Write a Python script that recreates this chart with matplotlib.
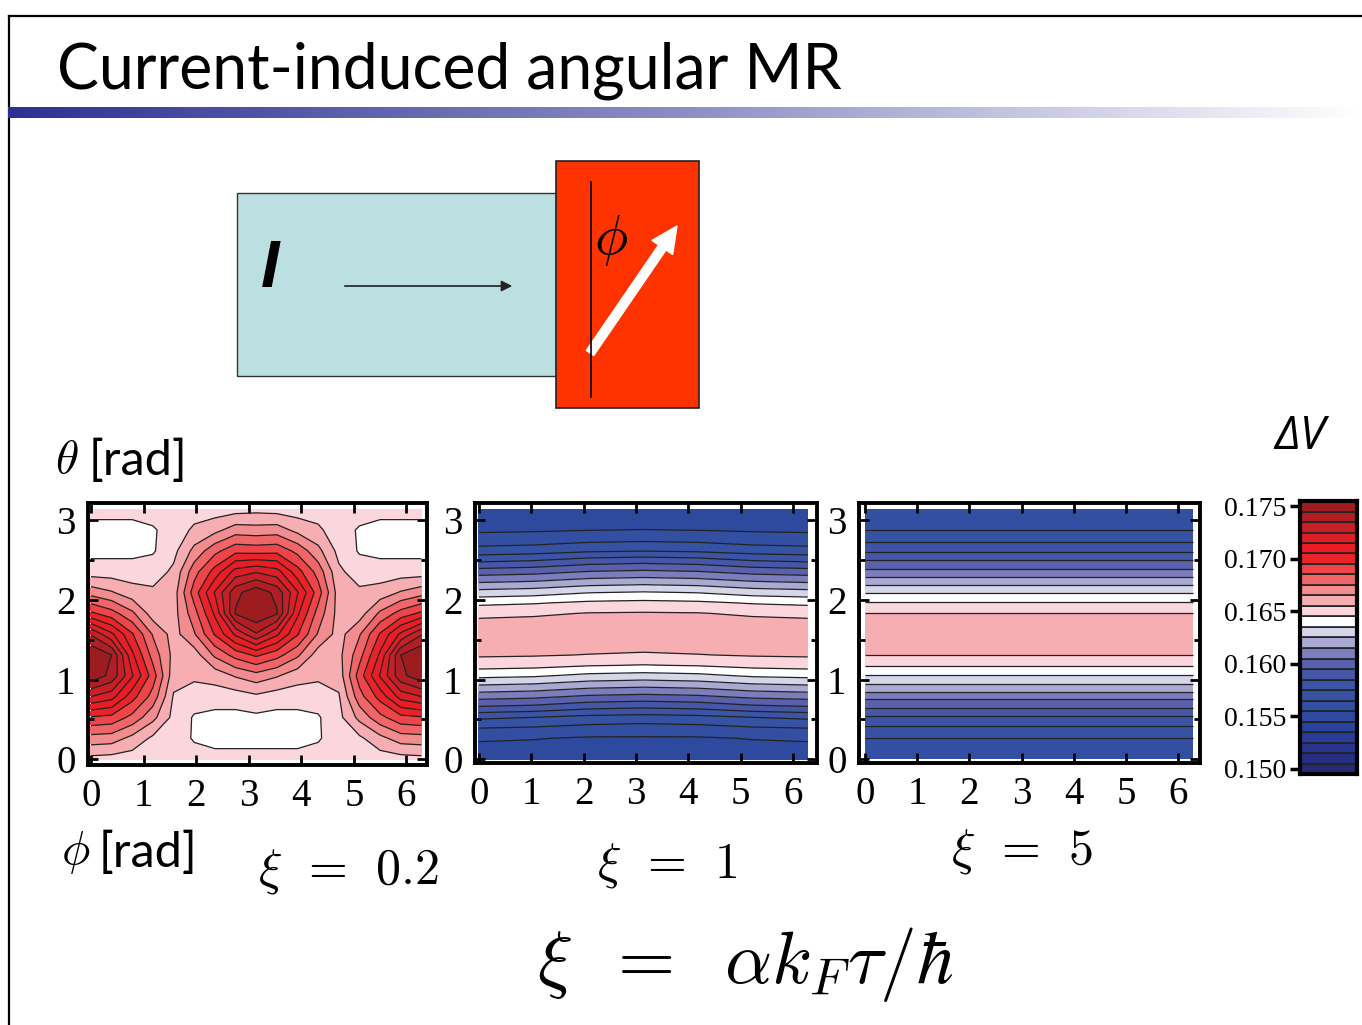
import numpy as np
import matplotlib
matplotlib.use("Agg")
import matplotlib.pyplot as plt
from matplotlib.patches import Rectangle, FancyArrow
from matplotlib.colors import LinearSegmentedColormap

plt.rcParams["mathtext.fontset"] = "cm"

W, H = 1362, 1025

# colour bands of Delta V (band centres, in units of 1e-3)
band_values = [150, 151, 152, 153, 154, 155, 156, 157, 158, 159, 160, 161, 162,
               163, 164, 165, 166, 167, 168, 169, 170, 171, 172, 173, 174, 175]
band_colors = ["#262a72", "#262e84", "#27358f", "#283c97", "#2a439c", "#2d4a9f",
               "#324fa2", "#3652a3", "#3b54a5", "#4657a8", "#5960ac", "#7c7dbd",
               "#a9a9d3", "#d6d6ea", "#ffffff", "#fbd6dc", "#f6aeb3", "#f38c8e",
               "#f06668", "#ef4448", "#ea2328", "#ec1c24", "#dc1e26", "#c71f26",
               "#b11f24", "#9c1c20"]
cbar_ticks = [0.150, 0.155, 0.160, 0.165, 0.170, 0.175]

# xi = 0.2 : rows theta = 0..pi (step pi/12), columns phi = 0..pi (step pi/8)
dv_xi02_half = [
    [165.2, 165.1, 165.0, 164.9, 164.8, 164.9, 164.8, 164.8, 164.8],
    [167.1, 167.0, 166.2, 165.3, 165.0, 164.4, 164.2, 164.2, 164.2],
    [169.4, 169.2, 168.2, 166.8, 165.2, 164.4, 164.2, 164.2, 164.3],
    [172.5, 171.9, 169.9, 168.1, 165.4, 165.0, 165.0, 165.0, 165.3],
    [175.2, 174.2, 171.6, 169.0, 165.9, 165.7, 165.9, 166.6, 167.1],
    [175.4, 174.5, 170.7, 168.1, 166.2, 166.0, 167.7, 168.9, 169.7],
    [173.4, 171.7, 169.6, 167.4, 166.1, 167.4, 169.6, 171.7, 173.4],
    [169.7, 168.9, 167.7, 166.0, 166.1, 168.1, 170.7, 174.6, 175.4],
    [167.1, 166.6, 165.9, 165.7, 166.0, 169.0, 171.6, 174.2, 175.2],
    [165.0, 165.0, 165.0, 165.0, 165.7, 168.1, 169.9, 171.9, 172.4],
    [164.2, 164.2, 164.2, 164.4, 165.2, 166.8, 168.2, 169.2, 169.1],
    [164.2, 164.2, 164.2, 164.4, 164.9, 165.7, 166.2, 167.0, 166.9],
    [164.8, 164.8, 164.8, 164.9, 164.8, 165.0, 165.0, 165.1, 165.2],
]

# xi = 1 : rows theta = 0..pi (step pi/24), columns phi = 0, pi/3, 2pi/3, pi
dv_xi1_half = [
    [155.00, 155.00, 155.00, 155.00],
    [155.20, 155.20, 155.10, 155.10],
    [155.65, 155.55, 155.40, 155.40],
    [156.53, 156.42, 156.19, 156.10],
    [157.70, 157.49, 157.20, 157.09],
    [159.42, 159.24, 158.80, 158.64],
    [160.89, 160.72, 160.33, 160.19],
    [162.34, 162.18, 161.79, 161.64],
    [163.77, 163.63, 163.24, 163.10],
    [164.90, 164.80, 164.56, 164.45],
    [165.64, 165.59, 165.47, 165.38],
    [166.03, 165.98, 165.88, 165.84],
    [166.18, 166.22, 166.27, 166.23],
    [165.78, 165.83, 165.93, 165.97],
    [165.24, 165.35, 165.54, 165.58],
    [164.27, 164.42, 164.69, 164.78],
    [162.90, 163.07, 163.46, 163.59],
    [161.44, 161.61, 162.00, 162.14],
    [159.99, 160.16, 160.54, 160.69],
    [158.40, 158.60, 159.04, 159.20],
    [156.93, 157.06, 157.35, 157.46],
    [155.97, 156.07, 156.31, 156.39],
    [155.35, 155.39, 155.48, 155.52],
    [155.07, 155.08, 155.15, 155.18],
    [154.94, 154.95, 154.99, 155.03],
]

# xi = 5 : no phi dependence, rows theta = 0..pi (step pi/24)
dv_xi5_profile = [155.90, 156.15, 156.47, 157.30, 158.35, 159.60, 160.85, 162.20,
                  163.47, 164.55, 165.52, 166.00, 166.30, 166.00, 165.52, 164.55,
                  163.47, 162.20, 160.85, 159.60, 158.35, 157.30, 156.47, 156.15,
                  155.90]

# symmetric about phi = pi
z1 = np.array(dv_xi02_half)
z1 = np.hstack([z1, z1[:, -2::-1]]) / 1000
z2 = np.array(dv_xi1_half)
z2 = np.hstack([z2, z2[:, -2::-1]]) / 1000
z3 = np.column_stack([dv_xi5_profile, dv_xi5_profile]) / 1000

phi1 = np.linspace(0, 2 * np.pi, z1.shape[1])
th1 = np.linspace(0, np.pi, z1.shape[0])
phi2 = np.linspace(0, 2 * np.pi, z2.shape[1])
th2 = np.linspace(0, np.pi, z2.shape[0])
phi3 = np.linspace(0, 2 * np.pi, z3.shape[1])
th3 = np.linspace(0, np.pi, z3.shape[0])

levels = (np.array(band_values + [176]) - 0.5) / 1000

fig = plt.figure(figsize=(W / 100, H / 100), dpi=100)

over = fig.add_axes([0, 0, 1, 1])
over.set_xlim(0, W)
over.set_ylim(H, 0)
over.axis("off")


def px_axes(x0, y0, x1, y1):
    return fig.add_axes([x0 / W, 1 - y1 / H, (x1 - x0) / W, (y1 - y0) / H])


serif = "Liberation Serif"

# slide frame + title
over.plot([9, W], [16, 16], color="black", lw=1.6)
over.plot([9, 9], [16, H], color="black", lw=1.6)
over.text(57, 88, "Current-induced angular MR", fontsize=45, family="Lato",
          ha="left", va="baseline")
gax = px_axes(8, 107, W, 118)
gcmap = LinearSegmentedColormap.from_list("bar", ["#2e3192", "#8c8fc4", "#ffffff"])
gax.imshow([np.linspace(0, 1, 256)], aspect="auto", cmap=gcmap)
gax.axis("off")

# sketch of the junction
over.add_patch(Rectangle((237, 193), 319, 183, fc="#bce0e2", ec="#333333", lw=1))
over.add_patch(Rectangle((556, 161), 143, 247, fc="#ff3300", ec="#222222", lw=1.2))
over.text(270, 270, "I", fontsize=48, family="Liberation Sans", weight="bold",
          style="italic", ha="center", va="center")
over.annotate("", xy=(515, 286), xytext=(342, 286),
              arrowprops=dict(arrowstyle="-|>", color="#222222", lw=1.2,
                              mutation_scale=16))
over.plot([591, 591], [182, 397], color="black", lw=1.2)
over.text(611, 240, r"$\phi$", fontsize=40, ha="center", va="center")
over.add_patch(FancyArrow(590, 353, 87, -127, width=9, head_width=25, head_length=26,
                          length_includes_head=True, fc="white", ec="white"))

# axis labels and captions
over.text(67, 460, r"$\theta$", fontsize=34, ha="center", va="center")
over.text(89, 475, "[rad]", fontsize=35, family="Lato", ha="left", va="baseline")
over.text(76, 852, r"$\phi$", fontsize=34, ha="center", va="center")
over.text(99, 867, "[rad]", fontsize=35, family="Lato", ha="left", va="baseline")
over.text(1300, 437, "ΔV", fontsize=33, family=["Open Sans", "DejaVu Sans"],
          style="italic", ha="center", va="center")
over.text(348, 872, r"$\xi\;\,=\;\,0.2$", fontsize=36, ha="center", va="center")
over.text(667, 865, r"$\xi\;\,=\;\,1$", fontsize=36, ha="center", va="center")
over.text(1022, 852, r"$\xi\;\,=\;\,5$", fontsize=36, ha="center", va="center")
over.text(745, 965, r"$\xi\;\;=\;\;\alpha k_F\tau/\hbar$", fontsize=53,
          ha="center", va="center")

panels = [
    (phi1, th1, z1, (88, 503, 427, 765), (-0.057, 6.39), (-0.075, 3.22)),
    (phi2, th2, z2, (475, 503, 817, 763), (-0.076, 6.46), (-0.05, 3.22)),
    (phi3, th3, z3, (859, 503, 1200, 763), (-0.115, 6.42), (-0.05, 3.22)),
]

for phi, th, z, box, xl, yl in panels:
    ax = px_axes(*box)
    ax.contourf(phi, th, z, levels=levels, colors=band_colors)
    ax.contour(phi, th, z, levels=levels, colors="#222222", linewidths=0.9)
    ax.set_xlim(*xl)
    ax.set_ylim(*yl)
    ax.set_xticks(range(7))
    ax.set_yticks(range(4))
    ax.set_yticks([0.5, 1.5, 2.5], minor=True)
    ax.tick_params(which="both", direction="in", top=True, right=True, width=2,
                   labelsize=28, pad=9)
    ax.tick_params(which="major", length=7)
    ax.tick_params(which="minor", length=4)
    for lab in ax.get_xticklabels() + ax.get_yticklabels():
        lab.set_family(serif)
    for s in ax.spines.values():
        s.set_linewidth(2.8)

# colour bar
cax = px_axes(1300, 501, 1357, 774)
for v, c in zip(band_values, band_colors):
    cax.bar(0, 0.001, bottom=(v - 0.5) / 1000, width=1, color=c,
            edgecolor="#222222", lw=1.2)
cax.set_xlim(-0.5, 0.5)
cax.set_ylim(levels[0], levels[-1])
cax.set_xticks([])
cax.set_yticks(cbar_ticks)
cax.set_yticklabels([f"{t:.3f}" for t in cbar_ticks])
cax.tick_params(axis="y", direction="out", length=7, width=2.5, labelsize=20, pad=3)
for lab in cax.get_yticklabels():
    lab.set_family(serif)
for s in cax.spines.values():
    s.set_linewidth(3)

fig.savefig("out.png", dpi=100)
